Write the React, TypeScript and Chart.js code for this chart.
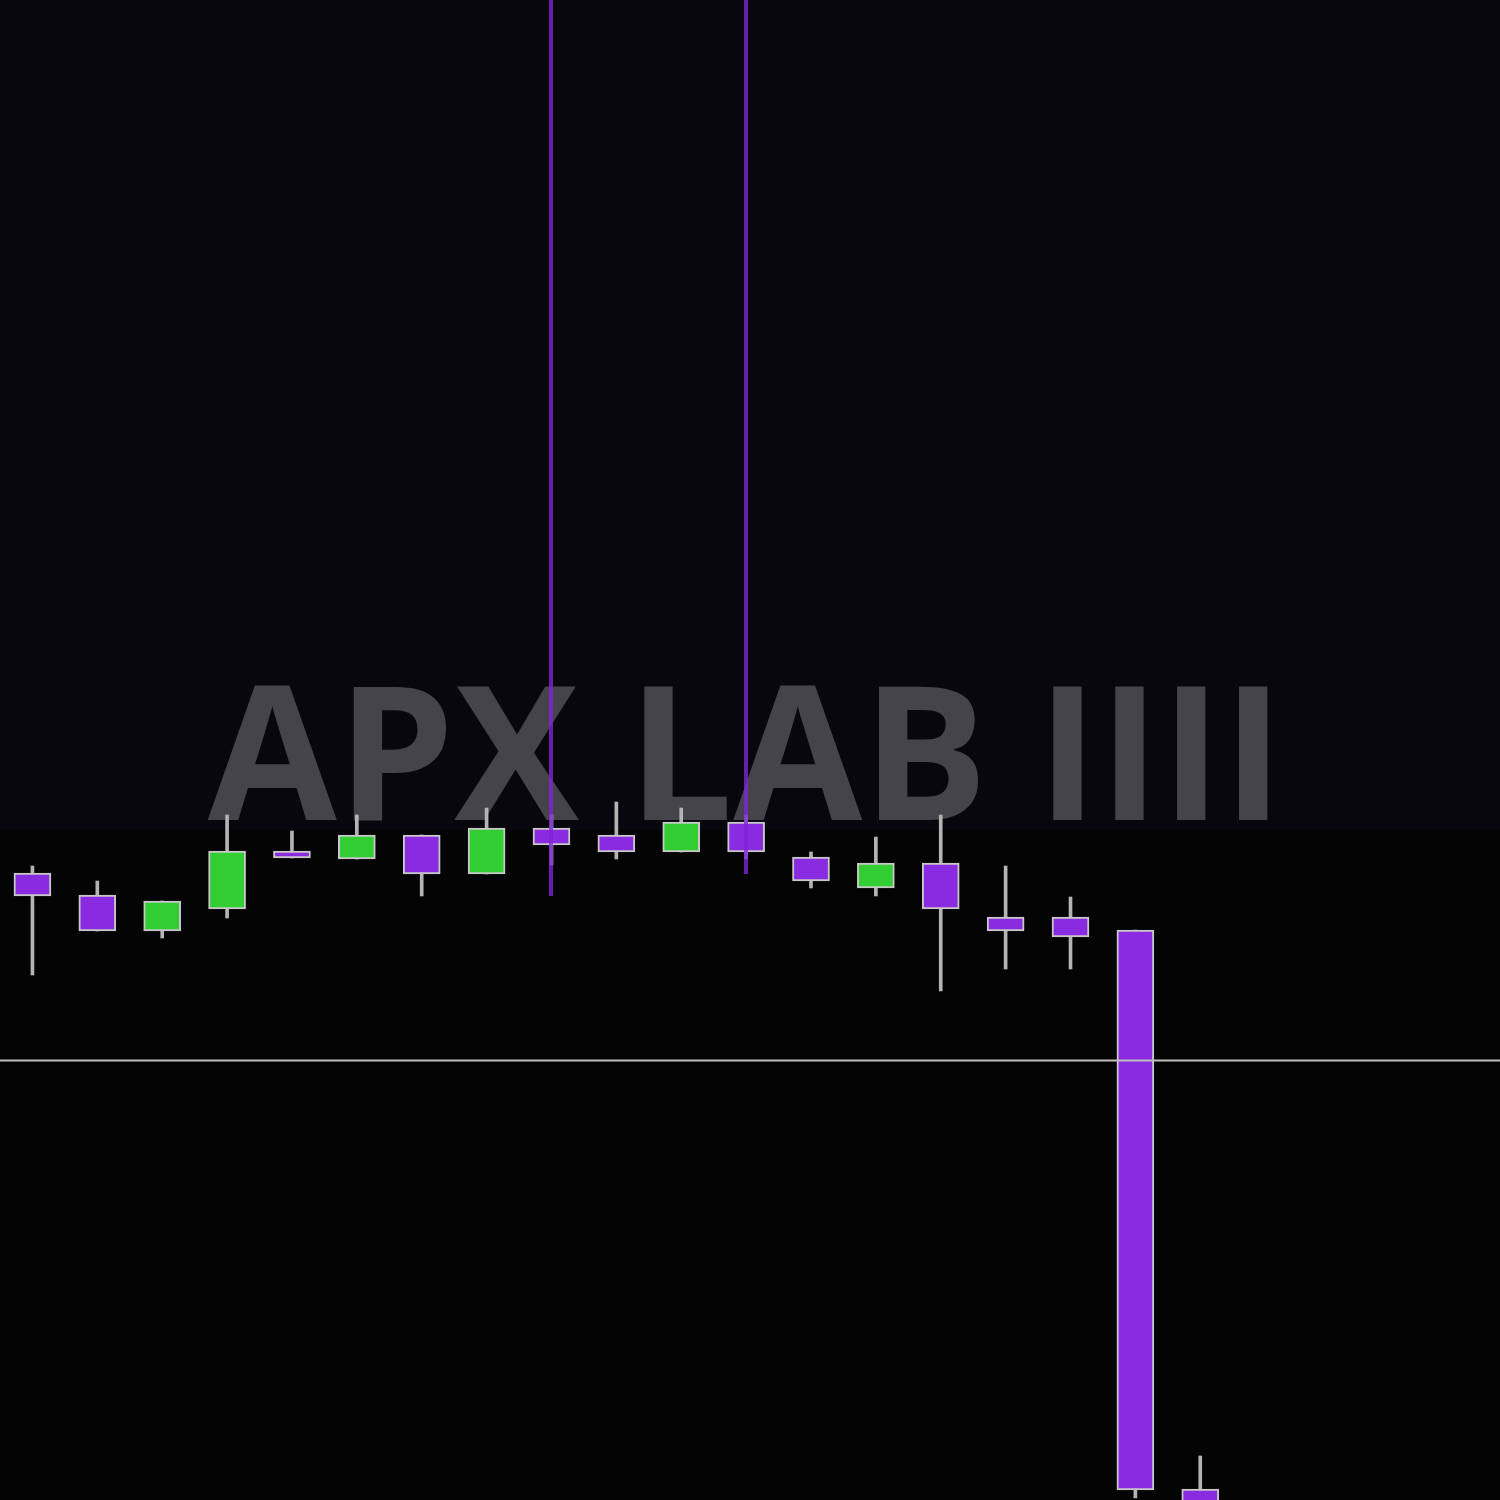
import React, { useEffect, useRef } from "react";
import { Chart, registerables } from "chart.js";

Chart.register(...registerables);

// Candle data (index = session)
const candleIndex = [0, 1, 2, 3, 4, 5, 6, 7, 8, 9, 10, 11, 12, 13, 14, 15, 16, 17, 18];
const opens = [109.35, 108.25, 106.45, 107.55, 110.45, 110.05, 111.25, 109.3, 111.6, 111.25, 110.4, 111.9, 110.15, 108.6, 109.85, 107.15, 107.15, 106.5, 78.55];
const closes = [108.2, 106.45, 107.95, 110.45, 110.1, 111.25, 109.3, 111.6, 110.75, 110.4, 111.9, 110.4, 108.95, 109.85, 107.55, 106.45, 106.15, 78.5, 76.0];
const highs = [109.7, 108.95, 107.95, 112.25, 111.45, 112.25, 111.25, 112.6, 112.25, 112.9, 112.6, 112.25, 110.4, 111.15, 112.25, 109.7, 108.15, 106.5, 80.2];
const lows = [104.25, 106.45, 106.1, 107.1, 110.1, 110.05, 108.2, 109.3, 109.75, 110.05, 110.4, 110.05, 108.6, 108.2, 103.45, 104.55, 104.55, 78.1, 75.5];

// Annotations
const markerIndices = [8, 11];
const markerEnds = [108.2, 109.3];
const priceLine = 100;
const zoneFloor = 111.5;
const watermark = "APX LAB IIII";

const X_MIN = -0.5;
const X_MAX = 22.62;
const Y_MIN = 78;
const Y_MAX = 153;

const UP = "#32cd32";
const DOWN = "#8a2be2";

export default function App() {
  const ref = useRef<HTMLCanvasElement | null>(null);

  useEffect(() => {
    document.body.style.margin = "0";
    document.body.style.background = "#040404";
    const canvas = ref.current;
    if (!canvas) return;

    const bodies = candleIndex.map((i) => ({ x: i, y: [opens[i], closes[i]] }));
    const wicks = candleIndex.map((i) => ({ x: i, y: [lows[i], highs[i]] }));
    const bodyColors = candleIndex.map((i) => (closes[i] >= opens[i] ? UP : DOWN));

    const bgPlugin = {
      id: "bg",
      beforeDraw(chart: any) {
        const { ctx, scales } = chart;
        ctx.save();
        ctx.fillStyle = "#040404";
        ctx.fillRect(0, 0, chart.width, chart.height);
        const yz = scales.y.getPixelForValue(zoneFloor);
        ctx.fillStyle = "#08070d";
        ctx.fillRect(0, 0, chart.width, yz);
        ctx.restore();
      },
      beforeDatasetsDraw(chart: any) {
        const { ctx } = chart;
        ctx.save();
        ctx.font = "bold 187px 'Open Sans'";
        ctx.fillStyle = "#45444a";
        ctx.textAlign = "center";
        ctx.textBaseline = "alphabetic";
        ctx.fillText(watermark, 746, 820);
        ctx.restore();
      },
      afterDatasetsDraw(chart: any) {
        const { ctx, scales } = chart;
        ctx.save();
        const yl = Math.round(scales.y.getPixelForValue(priceLine)) + 0.5;
        ctx.strokeStyle = "#c0c0c0";
        ctx.lineWidth = 2;
        ctx.beginPath();
        ctx.moveTo(0, yl);
        ctx.lineTo(chart.width, yl);
        ctx.stroke();

        ctx.strokeStyle = "rgba(128,36,214,0.8)";
        ctx.lineWidth = 4;
        markerIndices.forEach((idx, k) => {
          const x = Math.round(scales.x.getPixelForValue(idx));
          const yb = scales.y.getPixelForValue(markerEnds[k]);
          ctx.beginPath();
          ctx.moveTo(x, 0);
          ctx.lineTo(x, yb);
          ctx.stroke();
        });
        ctx.restore();
      },
    };

    const chart = new Chart(canvas, {
      type: "bar",
      data: {
        datasets: [
          {
            data: wicks as any,
            backgroundColor: "#b4b4b4",
            borderWidth: 0,
            barThickness: 3,
            grouped: false,
            order: 2,
          } as any,
          {
            data: bodies as any,
            backgroundColor: bodyColors,
            borderColor: "#c8c8c8",
            borderWidth: 2,
            borderSkipped: false,
            barThickness: 37,
            grouped: false,
            order: 1,
          } as any,
        ],
      },
      options: {
        animation: false,
        responsive: false,
        maintainAspectRatio: false,
        layout: { padding: 0 },
        plugins: { legend: { display: false }, tooltip: { enabled: false } },
        scales: {
          x: { type: "linear", min: X_MIN, max: X_MAX, display: false, offset: false },
          y: { type: "linear", min: Y_MIN, max: Y_MAX, display: false },
        },
      },
      plugins: [bgPlugin],
    });

    return () => chart.destroy();
  }, []);

  return (
    <div style={{ width: 1500, height: 1500 }}>
      <canvas ref={ref} width={1500} height={1500} style={{ display: "block" }} />
    </div>
  );
}
